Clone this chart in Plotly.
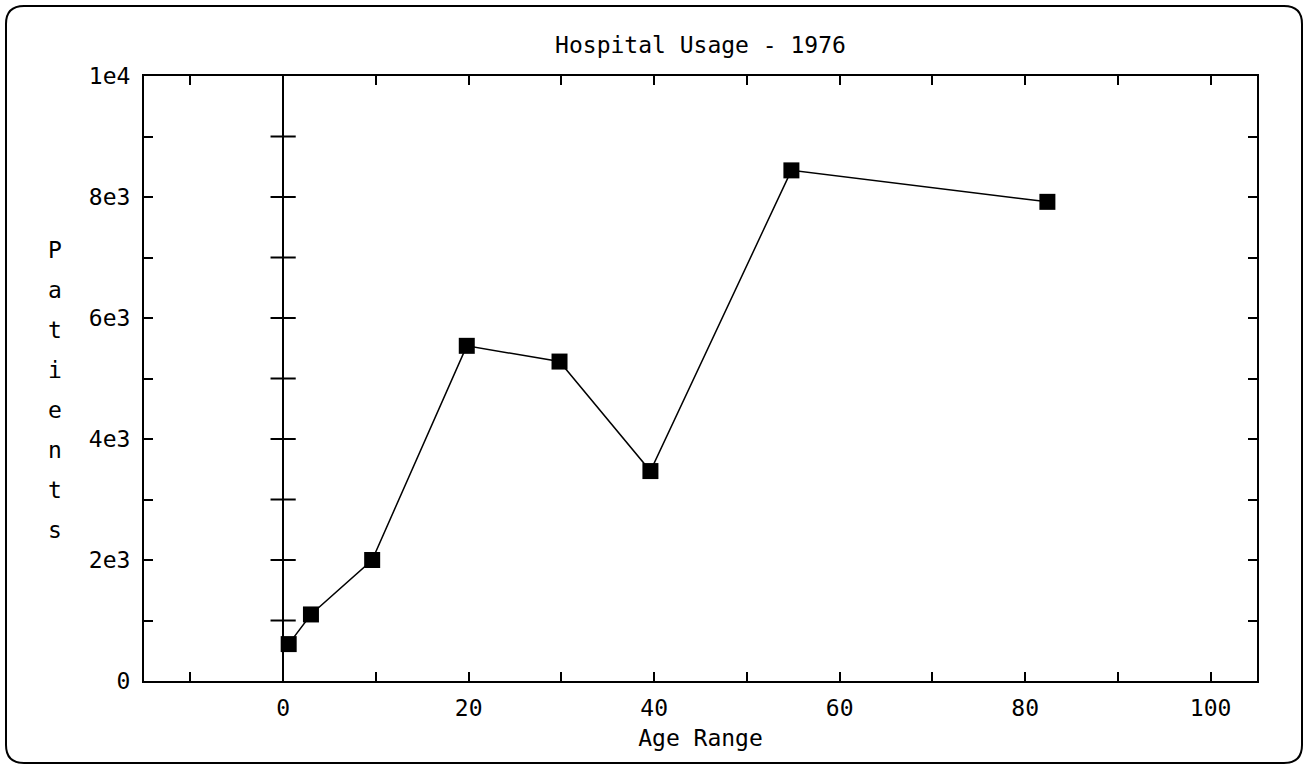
import plotly.graph_objects as go

# ---- data ----
age = [0.6, 3.0, 9.6, 19.8, 29.8, 39.6, 54.8, 82.4]
patients = [610, 1100, 2000, 5540, 5280, 3470, 8440, 7920]

x_tick_vals = [0, 20, 40, 60, 80, 100]
x_tick_text = ["0", "20", "40", "60", "80", "100"]
y_tick_vals = [0, 2000, 4000, 6000, 8000, 10000]
y_tick_text = ["0", "2e3", "4e3", "6e3", "8e3", "1e4"]
y_minor_vals = [1000, 2000, 3000, 4000, 5000, 6000, 7000, 8000, 9000]

title_text = "Hospital Usage - 1976"
x_title = "Age Range"
y_title = "Patients"

# ---- layout geometry ----
W, H = 1308, 769
L, R, T, B = 144, 51, 76, 88
PW, PH = W - L - R, H - T - B
X_RANGE = [-15, 105]
Y_RANGE = [0, 10000]

FONT = "DejaVu Sans Mono"
FS = 23


def px_to_paper_x(px):
    return (px - L) / PW


def px_to_paper_y(py):
    return (H - B - py) / PH


fig = go.Figure()

# crossing ticks on the x=0 line
fig.add_trace(go.Scatter(
    x=[0] * len(y_minor_vals), y=y_minor_vals, mode="markers",
    marker=dict(symbol="line-ew", size=18, line=dict(color="black", width=2)),
    showlegend=False, hoverinfo="skip",
))

fig.add_trace(go.Scatter(
    x=age, y=patients, mode="lines+markers",
    line=dict(color="black", width=1.5),
    marker=dict(symbol="square", size=16, color="black"),
    showlegend=False, hoverinfo="x+y",
))

axis_common = dict(
    showgrid=False, showline=True, linecolor="black", linewidth=2,
    mirror="ticks", ticks="inside", ticklen=9, tickwidth=2, tickcolor="black",
    tickfont=dict(family=FONT, size=FS, color="black"),
)

fig.update_layout(
    width=W, height=H,
    margin=dict(l=L, r=R, t=T, b=B, pad=0),
    paper_bgcolor="white", plot_bgcolor="white",
    xaxis=dict(
        range=X_RANGE, tickmode="array", tickvals=x_tick_vals, ticktext=x_tick_text,
        minor=dict(dtick=10, tick0=0, ticks="inside", ticklen=9, tickwidth=2, tickcolor="black"),
        zeroline=True, zerolinecolor="black", zerolinewidth=2,
        ticklabelstandoff=5,
        title=dict(text=x_title, font=dict(family=FONT, size=FS, color="black"), standoff=10),
        **axis_common,
    ),
    yaxis=dict(
        range=Y_RANGE, tickmode="array", tickvals=y_tick_vals, ticktext=y_tick_text,
        minor=dict(dtick=1000, tick0=0, ticks="inside", ticklen=9, tickwidth=2, tickcolor="black"),
        zeroline=False, ticklabelstandoff=7,
        **axis_common,
    ),
    title=dict(
        text=title_text, font=dict(family=FONT, size=FS, color="black"),
        x=0.5, xref="paper", xanchor="center", y=1 - 45 / H, yanchor="middle",
    ),
)

# vertical stacked y-axis title, one letter per line
for i, ch in enumerate(y_title):
    fig.add_annotation(
        text=ch, xref="paper", yref="paper",
        x=px_to_paper_x(55), y=px_to_paper_y(250 + i * 40),
        xanchor="center", yanchor="middle", showarrow=False,
        font=dict(family=FONT, size=FS, color="black"),
    )

# rounded frame around the whole figure
x0, x1 = px_to_paper_x(6), px_to_paper_x(1302)
y0, y1 = px_to_paper_y(6), px_to_paper_y(763)
rx, ry = 18 / PW, 18 / PH
path = (
    f"M {x0 + rx},{y0} L {x1 - rx},{y0} Q {x1},{y0} {x1},{y0 - ry} "
    f"L {x1},{y1 + ry} Q {x1},{y1} {x1 - rx},{y1} "
    f"L {x0 + rx},{y1} Q {x0},{y1} {x0},{y1 + ry} "
    f"L {x0},{y0 - ry} Q {x0},{y0} {x0 + rx},{y0} Z"
)
fig.add_shape(type="path", path=path, xref="paper", yref="paper",
              line=dict(color="black", width=2), layer="above")

fig.write_html("out.html")
